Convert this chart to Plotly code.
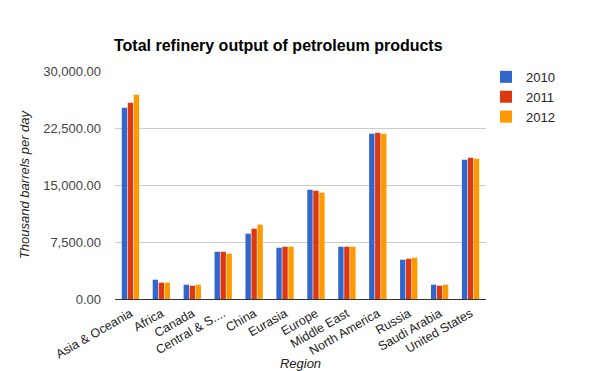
import plotly.graph_objects as go

regions = ["Asia & Oceania", "Africa", "Canada", "Central & S....", "China", "Eurasia",
           "Europe", "Middle East", "North America", "Russia", "Saudi Arabia", "United States"]
v2010 = [25170, 2540, 1880, 6220, 8590, 6750, 14380, 6880, 21750, 5170, 1880, 18330]
v2011 = [25830, 2150, 1750, 6220, 9250, 6880, 14250, 6880, 21880, 5300, 1750, 18590]
v2012 = [26880, 2150, 1880, 5960, 9780, 6880, 13990, 6880, 21750, 5430, 1880, 18460]
years = ["2010", "2011", "2012"]
colors = ["#3366cc", "#dc3912", "#ff9900"]
tickvals = [0, 7500, 15000, 22500, 30000]

fig = go.Figure()
for name, vals, c in zip(years, [v2010, v2011, v2012], colors):
    fig.add_trace(go.Bar(x=regions, y=vals, name=name, marker=dict(color=c, line=dict(width=0))))

font = "Liberation Sans, Arial, sans-serif"
fig.update_layout(
    width=600, height=371,
    margin=dict(l=115, r=114, t=71, b=72, autoexpand=False),
    paper_bgcolor="white", plot_bgcolor="white",
    barmode="group", bargap=0.42, bargroupgap=0.1,
    font=dict(family=font, size=13, color="#444"),
    title=dict(text="<b>Total refinery output of petroleum products</b>",
               x=114/600, xanchor="left", y=1-45/371, yanchor="middle",
               font=dict(family=font, size=16, color="#000")),
    legend=dict(x=1.0, xanchor="left", y=1.04, yanchor="top",
                font=dict(family=font, size=13, color="#222"),
                tracegroupgap=0),
    xaxis=dict(tickangle=-30, tickfont=dict(family=font, size=12.5, color="#222"),
               title=dict(text="<i>Region</i>", font=dict(family=font, size=13, color="#222"), standoff=0),
               showline=False, ticks="", automargin=False, ticklabelstandoff=4),
    yaxis=dict(range=[0, 30000], tickvals=tickvals, tickformat=",.2f",
               tickfont=dict(family=font, size=13, color="#444"),
               title=dict(text="<i>Thousand barrels per day</i>", font=dict(family=font, size=13, color="#222"), standoff=10),
               gridcolor="#cccccc", zeroline=True, zerolinecolor="#333333", zerolinewidth=1,
               ticks="", ticklabelstandoff=13, automargin=False),
)
fig.write_html("out.html", config={"displayModeBar": False},
               post_script="document.body.style.margin='0';document.body.style.overflow='hidden';")
